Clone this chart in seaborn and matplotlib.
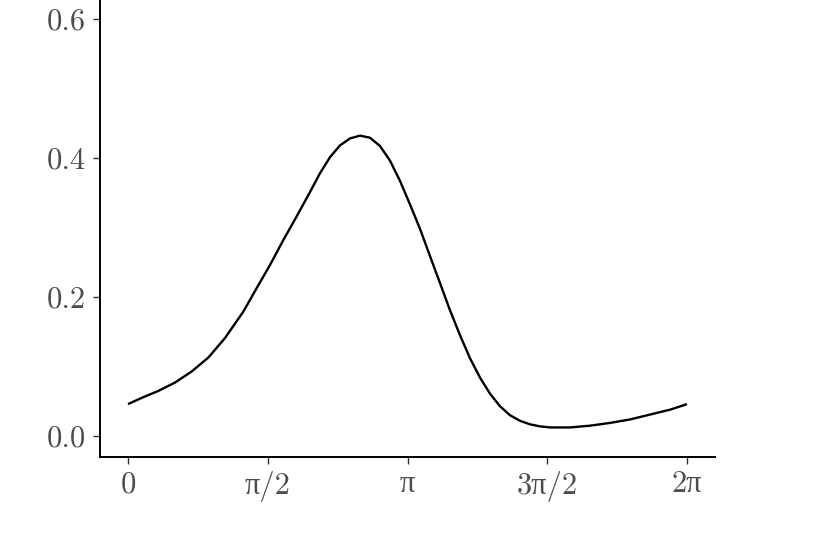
import numpy as np
import pandas as pd
import seaborn as sns
import matplotlib.pyplot as plt

# curve (angle in radians, density)
theta = [0.000, 0.154, 0.341, 0.528, 0.716, 0.903, 1.090, 1.296, 1.447, 1.596,
         1.746, 1.896, 2.046, 2.158, 2.270, 2.383, 2.495, 2.608, 2.720, 2.833,
         2.945, 3.057, 3.170, 3.282, 3.394, 3.507, 3.619, 3.732, 3.844, 3.957,
         4.069, 4.181, 4.294, 4.406, 4.519, 4.631, 4.743, 4.968, 5.193, 5.418,
         5.643, 5.868, 6.092, 6.283]
density = [0.046, 0.055, 0.065, 0.077, 0.093, 0.113, 0.141, 0.179, 0.213, 0.246,
           0.282, 0.316, 0.351, 0.378, 0.401, 0.418, 0.428, 0.432, 0.429, 0.417,
           0.396, 0.367, 0.333, 0.298, 0.259, 0.220, 0.181, 0.145, 0.112, 0.084,
           0.061, 0.043, 0.030, 0.022, 0.017, 0.014, 0.0125, 0.0125, 0.015, 0.019,
           0.024, 0.031, 0.038, 0.046]

x_ticks = [0, np.pi / 2, np.pi, 3 * np.pi / 2, 2 * np.pi]
x_labels = ['0', 'π/2', 'π', '3π/2', '2π']
y_ticks = [0.0, 0.2, 0.4, 0.6]

df = pd.DataFrame({'theta': theta, 'density': density})

sns.set_style('ticks')
# cmr10 has no lower-case pi, so it falls through to Liberation Serif
plt.rcParams['font.family'] = ['cmr10', 'Liberation Serif', 'DejaVu Serif']

fig = plt.figure(figsize=(8.3, 5.54), dpi=100)
ax = fig.add_axes([100 / 830, 97 / 554, 615 / 830, 457 / 554])

line_kws = dict(solid_joinstyle='round', solid_capstyle='butt')
sns.lineplot(data=df, x='theta', y='density', color='black', linewidth=1.7,
             ax=ax, **line_kws)

ax.set_xlim(-0.315, 6.598)
ax.set_ylim(-0.030, 0.627)
ax.set_xticks(x_ticks)
ax.set_xticklabels(x_labels)
ax.set_yticks(y_ticks)
ax.set_yticklabels([f'{v:.1f}' for v in y_ticks])
ax.set_xlabel('')
ax.set_ylabel('')

sns.despine(ax=ax)
for side in ['left', 'bottom']:
    ax.spines[side].set_linewidth(1.4)
    ax.spines[side].set_color('black')

ax.tick_params(axis='both', length=5, width=1.0, color='#333333',
               labelsize=22, labelcolor='#4D4D4D', pad=5)

plt.savefig('out.png', dpi=100)
